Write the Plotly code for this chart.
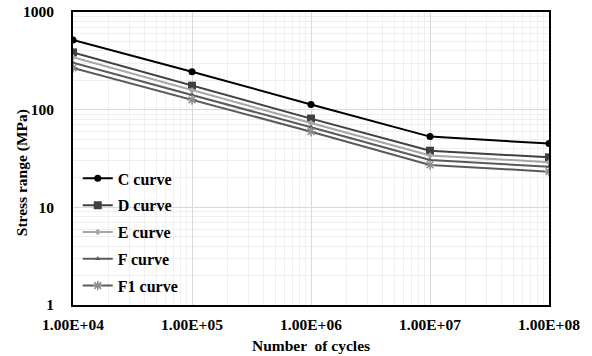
import plotly.graph_objects as go

cycles = [1e4, 1e5, 1e6, 1e7, 1e8]
c_curve = [516, 245, 113, 53, 45]
d_curve = [386, 176, 81, 38, 32.5]
e_curve = [345, 158, 73, 34, 29]
f_curve = [303, 142, 66, 30.5, 26]
f1_curve = [268, 126, 59.5, 27.2, 23.2]

names = ["C curve", "D curve", "E curve", "F curve", "F1 curve"]
series = [c_curve, d_curve, e_curve, f_curve, f1_curve]
colors = ["#000000", "#404040", "#a6a6a6", "#5a5a5a", "#5a5a5a"]
mcolors = ["#000000", "#404040", "#a6a6a6", "#5a5a5a", "#8c8c8c"]
symbols = ["circle", "square", "diamond", "triangle-up", "asterisk"]
msizes = [7, 8, 5, 5, 8]

xtickvals = [1e4, 1e5, 1e6, 1e7, 1e8]
xticktext = ["1.00E+04", "1.00E+05", "1.00E+06", "1.00E+07", "1.00E+08"]
ytickvals = [1, 10, 100, 1000]
yticktext = ["1", "10", "100", "1000"]

FAM = "Times New Roman"

fig = go.Figure()
for i, (n, s, c, mc, sym, ms) in enumerate(zip(names, series, colors, mcolors, symbols, msizes)):
    fig.add_trace(go.Scatter(
        x=cycles, y=s, name=n, mode="lines+markers", legendgroup=f"g{i}",
        line=dict(color=c, width=2),
        marker=dict(symbol=sym, size=ms, color=mc,
                    line=dict(color=mc, width=1.5 if sym == "asterisk" else 0)),
    ))

fig.update_layout(
    width=592, height=356,
    margin=dict(l=73, r=43, t=12, b=51),
    paper_bgcolor="white", plot_bgcolor="white",
    font=dict(family=FAM, color="#000000"),
    showlegend=True,
    legend=dict(x=0.01, y=0.49, xanchor="left", yanchor="top",
                bgcolor="rgba(255,255,255,0)",
                font=dict(family=FAM, size=16, color="#000000", weight="bold"),
                itemwidth=30, tracegroupgap=3),
    xaxis=dict(
        type="log", range=[4, 8], automargin=False,
        tickvals=xtickvals, ticktext=xticktext,
        tickfont=dict(family=FAM, size=15.5, weight="bold"),
        ticklabelstandoff=4,
        showline=True, linecolor="#000000", linewidth=2, mirror=True,
        showgrid=True, gridcolor="#d9d9d9", gridwidth=1,
        ticks="", zeroline=False,
        minor=dict(showgrid=True, gridcolor="#efefef", gridwidth=1, dtick="D1"),
    ),
    yaxis=dict(
        type="log", range=[0, 3], automargin=False,
        tickvals=ytickvals, ticktext=yticktext,
        tickfont=dict(family=FAM, size=15.5, weight="bold"),
        ticklabelstandoff=14,
        showline=True, linecolor="#000000", linewidth=2, mirror=True,
        showgrid=True, gridcolor="#d9d9d9", gridwidth=1,
        ticks="", zeroline=False,
        minor=dict(showgrid=True, gridcolor="#efefef", gridwidth=1, dtick="D1"),
    ),
    annotations=[
        dict(text="Number  of cycles", xref="paper", yref="paper", x=0.5, y=-0.139,
             xanchor="center", yanchor="middle", showarrow=False,
             font=dict(family=FAM, size=15.5, weight="bold", color="#000000")),
        dict(text="Stress range (MPa)", xref="paper", yref="paper", x=-0.107, y=0.45,
             xanchor="center", yanchor="middle", showarrow=False, textangle=-90,
             font=dict(family=FAM, size=15.5, weight="bold", color="#000000")),
    ],
)

fig.write_html("out.html")
